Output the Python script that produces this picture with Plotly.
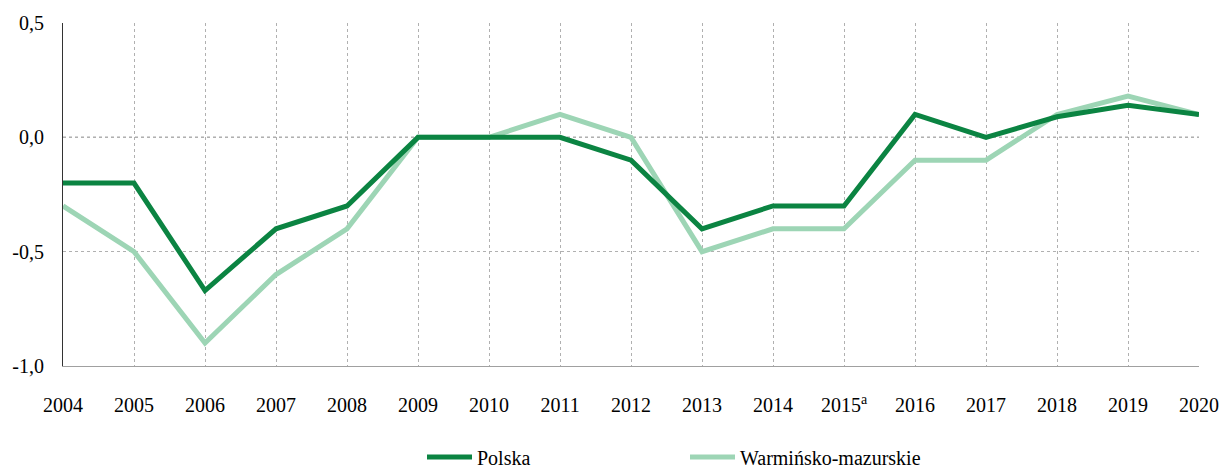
import plotly.graph_objects as go

years = ["2004", "2005", "2006", "2007", "2008", "2009", "2010", "2011", "2012",
         "2013", "2014", "2015", "2016", "2017", "2018", "2019", "2020"]
year_labels = ["2004", "2005", "2006", "2007", "2008", "2009", "2010", "2011", "2012",
               "2013", "2014", "2015<sup>a</sup>", "2016", "2017", "2018", "2019", "2020"]
polska = [-0.2, -0.2, -0.67, -0.4, -0.3, 0.0, 0.0, 0.0, -0.1,
          -0.4, -0.3, -0.3, 0.1, 0.0, 0.09, 0.14, 0.1]
warminsko = [-0.3, -0.5, -0.9, -0.6, -0.4, 0.0, 0.0, 0.1, 0.0,
             -0.5, -0.4, -0.4, -0.1, -0.1, 0.1, 0.18, 0.1]
y_ticks = [-1.0, -0.5, 0.0, 0.5]
y_tick_labels = ["-1,0", "-0,5", "0,0", "0,5"]

x_idx = list(range(len(years)))

fig = go.Figure()
fig.add_trace(go.Scatter(x=x_idx, y=warminsko, mode="lines", name="Warmińsko-mazurskie",
                         line=dict(color="#9dd5b5", width=5)))
fig.add_trace(go.Scatter(x=x_idx, y=polska, mode="lines", name="Polska",
                         line=dict(color="#0b8442", width=5)))

fig.add_shape(type="line", xref="x", yref="y", x0=0, x1=len(years) - 1, y0=0, y1=0,
              line=dict(color="black", width=1, dash="dot"), layer="below")

fig.update_layout(
    width=1220, height=469,
    margin=dict(l=63, r=21, t=23, b=103, autoexpand=False),
    plot_bgcolor="white", paper_bgcolor="white",
    font=dict(family="Liberation Serif", size=20, color="black"),
    showlegend=True,
    legend=dict(orientation="h", xref="container", x=422 / 1220, xanchor="left",
                y=-0.265, yanchor="middle",
                traceorder="reversed", entrywidth=203, font=dict(size=20),
                itemwidth=45),
    xaxis=dict(range=[0, len(years) - 1], tickmode="array", tickvals=x_idx,
               ticktext=year_labels, showgrid=True, gridcolor="#b0b0b0", griddash="dot",
               gridwidth=1, showline=True, linecolor="#a0a0a0", linewidth=1,
               zeroline=False, ticks="", ticklabelstandoff=21, automargin=False),
    yaxis=dict(range=[-1.0, 0.5], tickmode="array", tickvals=y_ticks,
               ticktext=y_tick_labels, showgrid=True, gridcolor="#b0b0b0", griddash="dot",
               gridwidth=1, showline=True, linecolor="#333333", linewidth=1,
               zeroline=False, ticks="", ticklabelstandoff=14, automargin=False),
)

fig.write_html("out.html", config={"displayModeBar": False},
               post_script="document.body.style.margin='0';")
